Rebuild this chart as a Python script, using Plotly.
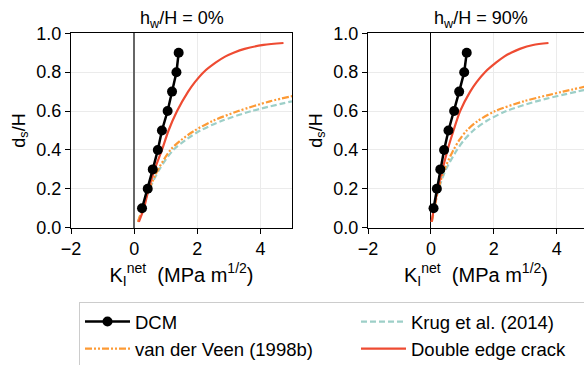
import plotly.graph_objects as go

# ---- data ----
dcm_y = [0.1, 0.2, 0.3, 0.4, 0.5, 0.6, 0.7, 0.8, 0.9]
dcm_x_0 = [0.25, 0.43, 0.59, 0.75, 0.88, 1.06, 1.20, 1.34, 1.41]
dcm_x_90 = [0.085, 0.19, 0.30, 0.42, 0.56, 0.74, 0.90, 1.06, 1.14]

dec_y = [0.03, 0.1, 0.2, 0.3, 0.4, 0.5, 0.6, 0.7, 0.75, 0.8, 0.85, 0.88, 0.9, 0.92, 0.94, 0.95]
dec_x_0 = [0.15, 0.31, 0.46, 0.65, 0.88, 1.09, 1.36, 1.71, 1.93, 2.2, 2.59, 2.88, 3.15, 3.5, 4.1, 4.73]
dec_x_90 = [0.02, 0.1, 0.22, 0.37, 0.53, 0.72, 0.93, 1.25, 1.46, 1.72, 2.08, 2.33, 2.55, 2.83, 3.25, 3.74]

vdv_y_0 = [0.03, 0.1, 0.2, 0.3, 0.4, 0.45, 0.5, 0.55, 0.6, 0.65, 0.68]
vdv_x_0 = [0.12, 0.27, 0.48, 0.76, 1.15, 1.48, 1.92, 2.5, 3.3, 4.3, 5.1]
vdv_y_90 = [0.03, 0.1, 0.2, 0.3, 0.4, 0.45, 0.5, 0.55, 0.6, 0.65, 0.7, 0.75]
vdv_x_90 = [0.03, 0.11, 0.24, 0.43, 0.72, 0.9, 1.14, 1.5, 2.05, 2.95, 4.2, 5.6]

krug_y_0 = [0.03, 0.1, 0.2, 0.3, 0.4, 0.45, 0.5, 0.55, 0.6, 0.65]
krug_x_0 = [0.12, 0.27, 0.49, 0.80, 1.24, 1.62, 2.1, 2.78, 3.72, 5.0]
krug_y_90 = [0.03, 0.1, 0.2, 0.3, 0.4, 0.45, 0.5, 0.55, 0.6, 0.65, 0.7, 0.73]
krug_x_90 = [0.03, 0.11, 0.25, 0.48, 0.83, 1.05, 1.35, 1.78, 2.4, 3.35, 4.65, 5.6]

titles = ["h<sub>w</sub>/H = 0%", "h<sub>w</sub>/H = 90%"]
x_ticks = [-2, 0, 2, 4]
y_ticks = [0.0, 0.2, 0.4, 0.6, 0.8, 1.0]

RED = "#EE4B32"
ORANGE = "#FD9A35"
TEAL = "#9DCFC8"
FONT = "Liberation Sans, Arial, sans-serif"

fig = go.Figure()

panels = [
    ("x", "y", dcm_x_0, dec_x_0, vdv_x_0, vdv_y_0, krug_x_0, krug_y_0),
    ("x2", "y2", dcm_x_90, dec_x_90, vdv_x_90, vdv_y_90, krug_x_90, krug_y_90),
]
for i, (xa, ya, dx, rx, vx, vy, kx, ky) in enumerate(panels):
    show = i == 0
    fig.add_trace(go.Scatter(x=kx, y=ky, xaxis=xa, yaxis=ya, mode="lines",
                             line=dict(color=TEAL, width=2.2, dash="6px,3px", shape="spline", smoothing=0.8),
                             name="Krug et al. (2014)", showlegend=show, legendrank=2))
    fig.add_trace(go.Scatter(x=vx, y=vy, xaxis=xa, yaxis=ya, mode="lines",
                             line=dict(color=ORANGE, width=2.2, dash="7px,2px,2px,2px,2px,2px",
                                       shape="spline", smoothing=0.8),
                             name="van der Veen (1998b)", showlegend=show, legendrank=3))
    fig.add_trace(go.Scatter(x=rx, y=dec_y, xaxis=xa, yaxis=ya, mode="lines",
                             line=dict(color=RED, width=2.2, shape="spline", smoothing=0.8),
                             name="Double edge crack", showlegend=show, legendrank=4))
    fig.add_trace(go.Scatter(x=dx, y=dcm_y, xaxis=xa, yaxis=ya, mode="lines+markers",
                             line=dict(color="black", width=2.5),
                             marker=dict(color="black", size=10),
                             name="DCM", showlegend=show, legendrank=1))

W, H = 584, 365
def fx(p):
    return p / W
def fy(p):
    return 1 - p / H

axis_common = dict(showline=True, linecolor="black", linewidth=1, ticks="outside",
                   ticklen=5, tickcolor="black", showgrid=True, gridcolor="#ebebeb",
                   gridwidth=1, tickfont=dict(size=18, color="black", family=FONT))

XT = "K<sub>I</sub><sup>net</sup>  (MPa m<sup>1/2</sup>)"
YT = "d<sub>s</sub>/H"

fig.update_layout(
    width=W, height=H,
    margin=dict(l=0, r=0, t=0, b=0, autoexpand=False),
    plot_bgcolor="white", paper_bgcolor="white",
    font=dict(family=FONT, color="black"),
    xaxis=dict(domain=[fx(71), fx(292)], range=[-2, 5], tickvals=x_ticks, mirror=True,
               zeroline=True, zerolinecolor="#666666", zerolinewidth=1.5,
               title=dict(text=XT, font=dict(size=20), standoff=9),
               anchor="y", **axis_common),
    yaxis=dict(domain=[fy(227.7), fy(33.3)], range=[0, 1], tickvals=y_ticks, tickformat=".1f",
               mirror=True, zeroline=False,
               title=dict(text=YT, font=dict(size=18), standoff=6),
               anchor="x", **axis_common),
    xaxis2=dict(domain=[fx(368), 1.0], range=[-2, 4.87], tickvals=x_ticks, mirror=True,
                zeroline=True, zerolinecolor="black", zerolinewidth=1,
                title=dict(text=XT, font=dict(size=20), standoff=9),
                anchor="y2", **axis_common),
    yaxis2=dict(domain=[fy(227.7), fy(33.3)], range=[0, 1], tickvals=y_ticks, tickformat=".1f",
                mirror=False, zeroline=False,
                title=dict(text=YT, font=dict(size=18), standoff=6),
                anchor="x2", **axis_common),
    legend=dict(orientation="h", x=fx(79), y=fy(302), xanchor="left", yanchor="top",
                entrywidth=216, entrywidthmode="pixels", itemwidth=45,
                bordercolor="#cccccc", borderwidth=1, bgcolor="white",
                font=dict(size=18.5, family=FONT, color="black"), traceorder="normal"),
    showlegend=True,
)

for i, t in enumerate(titles):
    xref = "x domain" if i == 0 else "x2 domain"
    yref = "y domain" if i == 0 else "y2 domain"
    dom_x = 0.5 if i == 0 else (430.7 + 31.4 * 1.6 - 368) / (584 - 368)
    fig.add_annotation(text=t, xref=xref, yref=yref, x=dom_x, y=1, yanchor="bottom",
                       yshift=0, showarrow=False, font=dict(size=18, family=FONT, color="black"))

fig.write_html("out.html", config={"displayModeBar": False},
               post_script="document.body.style.margin='0';document.body.style.padding='0';")
